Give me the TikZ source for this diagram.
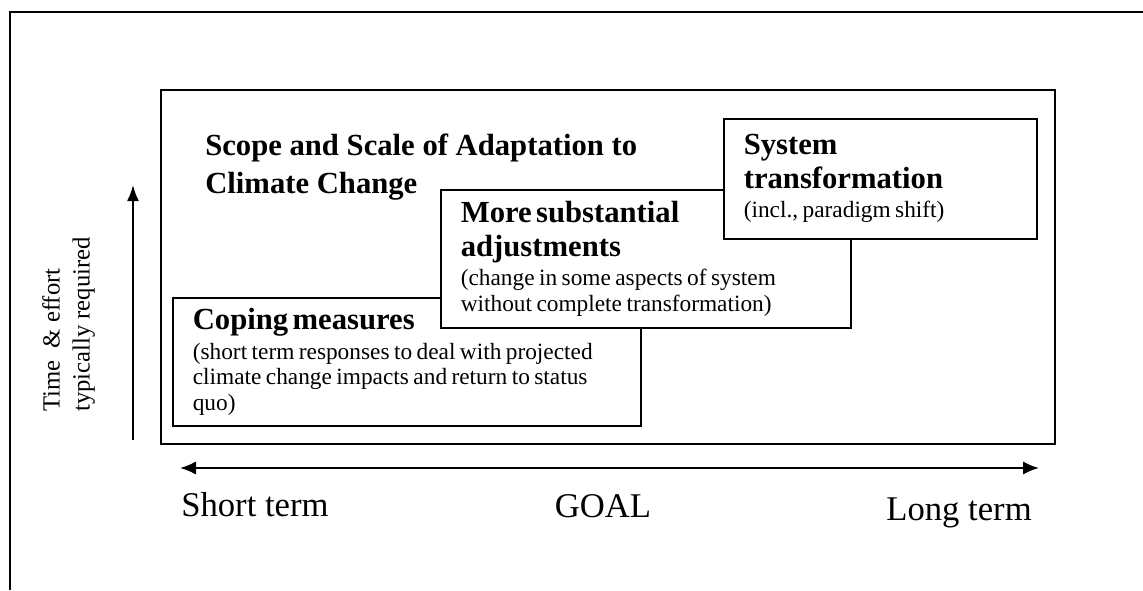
\documentclass[tikz,border=0pt]{standalone}
\usepackage{fontspec}
\setmainfont{Liberation Serif}
\usepackage{tikz}
\usetikzlibrary{arrows.meta}

\newcommand\headfont{\fontsize{23}{25}\selectfont\bfseries}
\newcommand\bodyfont{\par\vspace{3pt}\normalfont\fontsize{17.5}{19.2}\selectfont}

\tikzset{
  stagebox/.style={draw, line width=1.2pt, fill=white, anchor=north west, align=left, inner xsep=15pt, inner ysep=0pt},
  termlabel/.style={font=\fontsize{26}{28}\selectfont, inner sep=0pt},
}

\begin{document}
\begin{tikzpicture}[x=0.75pt,y=0.75pt,yscale=-1,xscale=1]
        \useasboundingbox (0,0) rectangle (1143,590);
        % page frame
        \draw [line width=1.5pt] (10,590) -- (10,12) -- (1143,12) ;
        % main frame
        \draw [line width=1.2pt] (161,90) rectangle (1055,444) ;

        \node (title) [anchor=north west, inner sep=0pt, align=left, font=\fontsize{23}{28}\selectfont\bfseries] at (205,134) {Scope and Scale of Adaptation to\\Climate Change};

        \node (cope) [stagebox, text width=321pt, minimum height=96pt] at (172,297) {\headfont Coping measures\bodyfont (short term responses to deal with projected\par climate change impacts and return to status\par quo)\par};
        \node (adjust) [stagebox, text width=277.5pt, minimum height=103.5pt] at (440,189) {\headfont More substantial\par adjustments\bodyfont (change in some aspects of system\par without complete transformation)\par};
        \node (system) [stagebox, text width=204.75pt, minimum height=90pt] at (723,118) {\headfont System\par transformation\bodyfont (incl., paradigm shift)\par};

        % effort axis
        \coordinate (effbot) at (133,440) ;
        \coordinate (efftop) at (133,185) ;
        \draw [line width=1.5pt, -{Latex[length=12pt,width=9pt]}] (effbot) -- (efftop) ;
        \node (effort) [anchor=north west, rotate=90, inner sep=0pt, align=left, font=\fontsize{18.5}{22.5}\selectfont] at (42,412) {Time \ \& effort\\typically required};

        % goal axis
        \node (short) [termlabel, anchor=base west] at (181,516) {Short term};
        \node (goal) [termlabel, anchor=base] at (603,517) {GOAL};
        \node (long) [termlabel, anchor=base east] at (1032,520) {Long term};
        \coordinate (goalL) at (180,468) ;
        \coordinate (goalR) at (1039,468) ;
        \draw [line width=1.5pt, {Latex[length=12pt,width=10pt]}-{Latex[length=12pt,width=10pt]}] (goalL) -- (goalR) ;
\end{tikzpicture}
\end{document}
